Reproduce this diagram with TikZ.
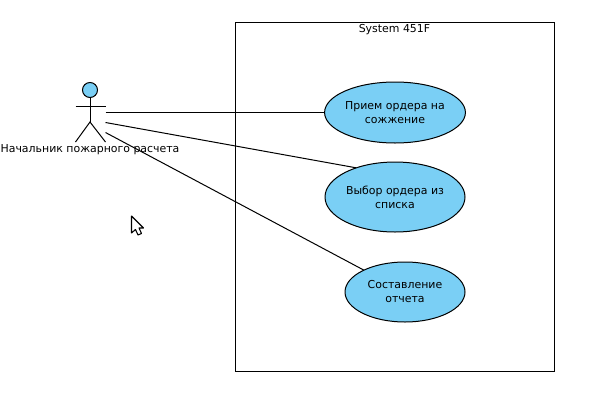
\documentclass[tikz,border=0pt]{standalone}
\usepackage{fontspec}
\setmainfont{DejaVu Sans}
\usetikzlibrary{shapes.geometric}
\definecolor{ucfill}{HTML}{7ACFF5}
\tikzset{
  px/.style={x=0.75pt,y=-0.75pt},
  usecase/.style={ellipse,draw=black,fill=ucfill,line width=0.75pt,inner sep=0pt,outer sep=0pt,align=center,font=\fontsize{8.2pt}{10.5pt}\selectfont},
  lbl/.style={inner sep=0pt,outer sep=0pt,font=\fontsize{8.2pt}{10.5pt}\selectfont},
  conn/.style={draw=black,line width=0.75pt},
  actorline/.style={draw=black,line width=0.75pt}
}
\begin{document}
\begin{tikzpicture}[px]
\useasboundingbox (0,0) rectangle (600,400);
\fill[white] (0,0) rectangle (600,400);
\node[draw=black,line width=0.75pt,minimum width=239pt,minimum height=261.75pt,inner sep=0pt,outer sep=0pt] (sys) at (394.8,196.5) {};
\node[lbl] (systitle) at (394.5,30) {System 451F};
\node[usecase,minimum width=105pt,minimum height=45.75pt] (u1) at (395,112.5) {Прием ордера на\\сожжение};
\node[usecase,minimum width=105pt,minimum height=52.5pt] (u2) at (395,197) {Выбор ордера из\\списка};
\node[usecase,minimum width=90pt,minimum height=45pt] (u3) at (405,292) {Составление\\отчета};
% actor
\node[circle,draw=black,fill=ucfill,line width=0.75pt,minimum size=11.25pt,inner sep=0pt,outer sep=0pt] (head) at (90,90) {};
\coordinate (hip) at (90,122);
\coordinate (arml) at (75.5,106);
\coordinate (armr) at (105.5,106);
\coordinate (legl) at (75.5,142);
\coordinate (legr) at (105.5,142);
\draw[actorline] (head.south) -- (hip);
\draw[actorline] (arml) -- (armr);
\draw[actorline] (legl) -- (hip) -- (legr);
\node[lbl] (actorlabel) at (90,150) {Начальник пожарного расчета};
\coordinate (a1) at (105.5,112.5);
\coordinate (a2) at (105.5,122.5);
\coordinate (a3) at (105.5,132.5);
\draw[conn] (a1) -- (u1.west);
\draw[conn] (a2) -- (u2.143.6);
\draw[conn] (a3) -- (u3.152.9);
% cursor
\draw[black,fill=white,line width=0.8pt,line join=round] (131.5,216) -- (131.5,233) -- (135.5,229.5) -- (138,235) -- (141.5,233.5) -- (139,228) -- (143.5,228) -- cycle;
\end{tikzpicture}
\end{document}
